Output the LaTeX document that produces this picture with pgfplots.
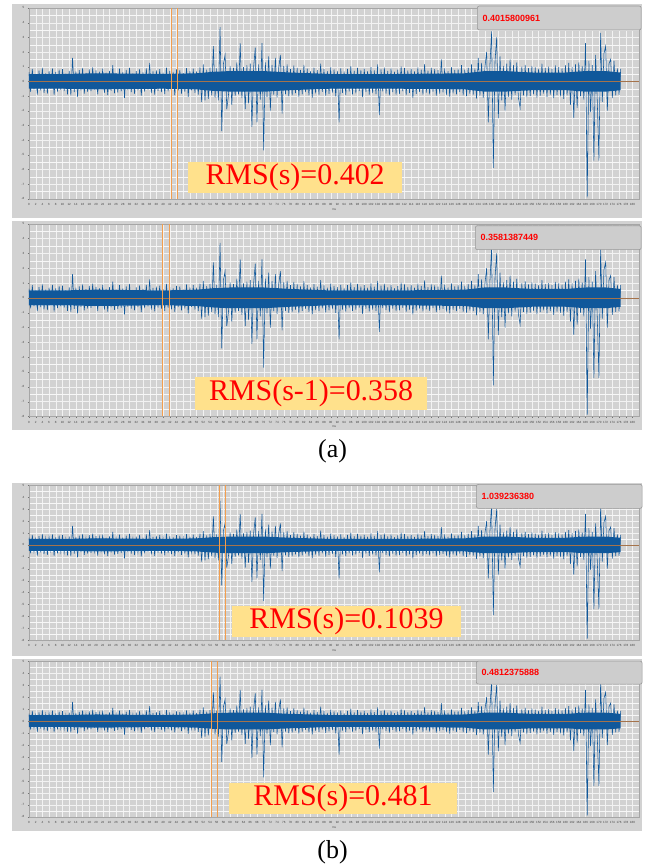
\documentclass[border=0pt]{standalone}
\usepackage{pgfplots}
\pgfplotsset{compat=1.18}
\usepackage{pgfplotstable}
\usepackage{fontspec}
\setmainfont{Liberation Serif}
\newfontfamily\sansf{Liberation Sans}
\definecolor{sig}{RGB}{16,88,155}
\definecolor{framec}{RGB}{210,210,210}
\definecolor{rmsbg}{RGB}{255,225,140}
\definecolor{cursorc}{RGB}{242,158,78}
\definecolor{zeroc}{RGB}{165,115,75}
\definecolor{boxc}{RGB}{205,205,205}

\pgfplotstableread[row sep=\\]{y\\
0.62\\-0.71\\0.85\\-0.55\\0.48\\-0.90\\0.73\\-0.62\\0.91\\-0.78\\0.55\\-0.83\\0.69\\-0.47\\0.88\\-0.92\\0.64\\-0.70\\0.79\\-0.58\\
0.83\\-0.66\\0.52\\-0.88\\0.71\\-0.95\\1.60\\-0.74\\0.68\\-1.05\\0.77\\-0.61\\0.90\\-0.84\\0.58\\-0.72\\0.81\\-0.67\\0.95\\-0.56\\
0.74\\-0.89\\0.66\\-0.53\\0.87\\-0.79\\0.60\\-0.93\\0.72\\-0.64\\1.10\\-0.81\\0.57\\-0.76\\0.86\\-0.69\\0.63\\-1.12\\0.78\\-0.60\\
0.92\\-0.73\\0.54\\-0.85\\0.70\\-0.62\\0.84\\-0.97\\0.61\\-0.70\\0.88\\-0.57\\1.25\\-0.80\\0.67\\-0.91\\0.75\\-0.65\\0.83\\-0.74\\
0.59\\-0.87\\0.94\\-0.68\\0.72\\-0.78\\0.65\\-0.95\\0.81\\-0.63\\0.77\\-0.84\\0.56\\-0.72\\0.90\\-1.05\\0.70\\-0.61\\0.86\\-0.79\\
0.68\\-0.90\\0.95\\-1.40\\1.15\\-1.30\\0.79\\-1.20\\0.92\\-0.95\\2.40\\-1.10\\0.88\\-1.30\\3.70\\-3.40\\1.20\\1.80\\-1.90\\-0.95\\
1.05\\-1.60\\0.92\\-1.00\\1.30\\-0.88\\2.60\\-1.15\\0.97\\-1.90\\1.10\\-1.50\\1.20\\-3.10\\0.95\\2.30\\-2.80\\1.15\\-1.25\\2.60\\
-4.70\\1.30\\-1.05\\1.70\\-2.00\\1.12\\-0.90\\1.60\\-1.10\\0.94\\1.80\\-2.20\\1.05\\-0.88\\1.15\\-1.02\\0.85\\-0.96\\1.08\\-0.80\\
0.92\\-1.05\\0.78\\-0.88\\1.12\\-0.74\\0.86\\-0.95\\0.70\\-1.10\\0.93\\-0.82\\0.76\\-0.90\\1.20\\-0.71\\0.84\\-0.98\\0.69\\-0.85\\
0.95\\-0.76\\0.81\\-1.02\\0.72\\-2.80\\0.88\\-0.79\\0.67\\-0.93\\0.85\\-0.70\\1.04\\-0.88\\0.73\\-0.81\\0.92\\-0.66\\0.78\\-1.08\\
0.86\\-0.74\\0.69\\-0.91\\0.97\\-0.80\\0.75\\-0.87\\1.15\\-2.30\\0.82\\-0.69\\0.94\\-0.83\\0.71\\-0.96\\0.88\\-0.73\\0.66\\-0.90\\
0.79\\-0.85\\1.02\\-0.68\\0.90\\-0.94\\0.74\\-0.79\\0.87\\-1.12\\0.68\\-0.86\\0.95\\-0.72\\0.80\\-0.91\\1.18\\-0.77\\0.73\\-0.88\\
0.91\\-0.70\\0.84\\-0.97\\0.76\\-0.83\\1.50\\-0.75\\0.89\\-0.92\\0.70\\-1.04\\0.97\\-0.81\\0.78\\-0.89\\0.86\\-0.74\\1.10\\-0.95\\
0.82\\-1.00\\0.94\\-0.86\\1.15\\-0.90\\0.88\\-1.18\\1.60\\-0.97\\1.25\\-1.10\\0.96\\2.00\\-2.80\\1.20\\3.40\\-5.90\\1.35\\3.00\\
-2.50\\1.70\\-1.30\\1.05\\-2.00\\1.20\\-1.05\\1.50\\-1.25\\1.10\\-0.92\\1.30\\-1.15\\-1.80\\1.00\\-0.95\\1.12\\-1.08\\0.90\\-1.00\\
1.05\\-0.88\\0.95\\-1.10\\0.86\\-0.97\\1.20\\-0.84\\0.92\\-1.05\\1.00\\-0.90\\0.85\\-1.15\\1.08\\-0.93\\0.97\\-1.02\\0.89\\-1.20\\
1.10\\-0.95\\1.25\\-1.60\\0.98\\-2.50\\1.15\\-1.80\\1.30\\-1.00\\1.05\\-1.25\\2.60\\-7.90\\1.40\\-2.10\\1.10\\-5.40\\1.80\\-1.30\\
-5.40\\3.30\\-1.40\\1.90\\2.40\\-2.00\\1.20\\1.50\\-1.15\\1.40\\-0.95\\0.88\\-0.92\\0.85\\
}\sigtab

\pgfplotstableread{
x y
0 0.50
10 0.50
20 0.55
40 0.50
50 0.55
55 0.65
60 0.70
70 0.70
78 0.60
90 0.50
110 0.50
130 0.55
136 0.70
142 0.70
150 0.60
160 0.60
166 0.70
172 0.70
176.5 0.60
176.5 -0.60
172 -0.70
166 -0.70
160 -0.60
150 -0.60
142 -0.70
136 -0.70
130 -0.55
110 -0.50
90 -0.50
78 -0.60
70 -0.70
60 -0.70
55 -0.65
50 -0.55
40 -0.50
20 -0.55
10 -0.50
0 -0.50
}\coretab

\pgfplotsset{panel/.style={
  scale only axis, width=611pt, anchor=south west,
  xmin=0, xmax=182, ymin=-8, ymax=5,
  xtick={0,2,...,180}, ytick={-8,-7,...,5},
  minor x tick num=0, minor y tick num=1,
  grid=both,
  major grid style={draw=black!5, line width=0.3pt},
  minor grid style={draw=black!3, line width=0.25pt},
  axis line style={draw=black!35, line width=0.3pt},
  tick align=outside, major tick length=1.2pt, minor tick length=0pt,
  tick style={draw=black!55, line width=0.2pt},
  xtick pos=bottom, ytick pos=left,
  tick label style={font=\sansf\fontsize{3}{3}\selectfont, text=black!75},
  /pgf/number format/assume math mode=true,
  xlabel={ms}, xlabel style={font=\sansf\fontsize{3}{3}\selectfont, text=black!70, yshift=4pt},
}}

% #1,#2: left/right edge of first cursor; #3,#4: of second cursor
\newcommand\panelplots[4]{%
\addplot[fill=sig, draw=none] table[x=x,y=y]{\coretab};
\addplot[sig, line width=0.55pt] table[x expr=\coordindex*0.5, y=y]{\sigtab};
\addplot[zeroc, line width=0.45pt] coordinates {(0,0) (182,0)};
\addplot[fill=cursorc, draw=none] coordinates {(#1,-8) (#2,-8) (#2,5) (#1,5)} -- cycle;
\addplot[fill=cursorc, draw=none] coordinates {(#3,-8) (#4,-8) (#4,5) (#3,5)} -- cycle;
}

\begin{document}
\begin{tikzpicture}[x=1pt,y=1pt]
\fill[white] (0,0) rectangle (646,867);
% frames
\fill[framec] (12,649) rectangle (643,863);
\fill[framec] (12,436) rectangle (643,646);
\fill[framec] (12,210) rectangle (643,383);
\fill[framec] (12,35) rectangle (643,207);

\begin{axis}[panel, at={(29pt,668pt)}, height=191pt]
\panelplots{42.4}{42.8}{44.2}{44.6}
\end{axis}
\begin{axis}[panel, at={(29pt,450pt)}, height=193pt]
\panelplots{39.7}{40.1}{41.8}{42.2}
\end{axis}
\begin{axis}[panel, at={(29pt,226pt)}, height=155pt]
\panelplots{56.7}{57.1}{58.5}{58.9}
\end{axis}
\begin{axis}[panel, at={(29pt,49pt)}, height=156pt]
\panelplots{54.3}{54.7}{56.1}{56.5}
\end{axis}

% value boxes
\tikzset{vbox/.style={fill=boxc, draw=black!40, line width=0.6pt, rounded corners=2pt},
         vtxt/.style={anchor=west, text=red, font=\sansf\bfseries\fontsize{9}{9}\selectfont, inner sep=0pt}}
\draw[vbox] (478,837) rectangle (642,861); \node[vtxt] at (483,849) {0.4015800961};
\draw[vbox] (476,617) rectangle (642,641); \node[vtxt] at (481,629) {0.3581387449};
\draw[vbox] (477,358) rectangle (643,382); \node[vtxt] at (482,370) {1.039236380};
\draw[vbox] (477,182) rectangle (643,205); \node[vtxt] at (482,193.5) {0.4812375888};

% RMS boxes
\tikzset{rtxt/.style={text=red, font=\fontsize{30}{30}\selectfont, inner sep=0pt}}
\fill[rmsbg] (188,674) rectangle (403,705); \node[rtxt] at (295.5,689.5) {RMS(s)=0.402};
\fill[rmsbg] (195,456) rectangle (428,490); \node[rtxt] at (311.5,473) {RMS(s-1)=0.358};
\fill[rmsbg] (232,229) rectangle (462,260); \node[rtxt] at (347,244.5) {RMS(s)=0.1039};
\fill[rmsbg] (229,52) rectangle (458,83); \node[rtxt] at (343.5,67.5) {RMS(s)=0.481};

\node[font=\fontsize{26}{26}\selectfont] at (333,415) {(a)};
\node[font=\fontsize{26}{26}\selectfont] at (333,14) {(b)};
\end{tikzpicture}
\end{document}
